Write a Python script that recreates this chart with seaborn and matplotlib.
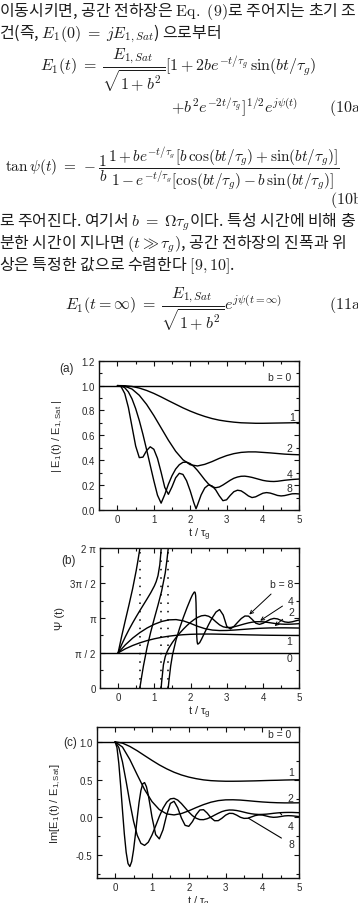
import numpy as np
import pandas as pd
import matplotlib
matplotlib.use("Agg")
import matplotlib.pyplot as plt
from matplotlib.ticker import MultipleLocator, FixedLocator
import seaborn as sns

W, H = 358, 904

# time axis, in units of tau_g
t_c = [0.0, 0.2, 0.4, 0.6, 0.8, 1.0, 1.2, 1.4, 1.6, 1.8, 2.0, 2.2, 2.4, 2.6, 2.8,
       3.0, 3.2, 3.4, 3.6, 3.8, 4.0, 4.2, 4.4, 4.6, 4.8, 5.0]
t_f = [0.0, 0.1, 0.2, 0.3, 0.4, 0.5, 0.6, 0.7, 0.8, 0.9, 1.0, 1.1, 1.2, 1.3, 1.4,
       1.5, 1.6, 1.7, 1.8, 1.9, 2.0, 2.1, 2.2, 2.3, 2.4, 2.5, 2.6, 2.7, 2.8, 2.9,
       3.0, 3.1, 3.2, 3.3, 3.4, 3.5, 3.6, 3.7, 3.8, 3.9, 4.0, 4.1, 4.2, 4.3, 4.4,
       4.5, 4.6, 4.7, 4.8, 4.9, 5.0]
t_flat = [-0.5, 5.0]

# (a) |E1(t) / E1,Sat|
amp_b0 = [1.0, 1.0]
amp_b1 = [1.000, 0.999, 0.993, 0.980, 0.961, 0.937, 0.909, 0.879, 0.850, 0.821, 0.795,
          0.772, 0.752, 0.735, 0.722, 0.713, 0.706, 0.701, 0.699, 0.697, 0.697, 0.698,
          0.699, 0.700, 0.701, 0.703]
amp_b2 = [1.000, 0.995, 0.972, 0.922, 0.849, 0.759, 0.660, 0.561, 0.472, 0.404, 0.364,
          0.354, 0.367, 0.389, 0.415, 0.437, 0.453, 0.463, 0.467, 0.467, 0.463, 0.459,
          0.454, 0.449, 0.446, 0.444]
amp_b4 = [1.000, 0.997, 0.983, 0.949, 0.893, 0.815, 0.719, 0.608, 0.486, 0.360, 0.235,
          0.119, 0.055, 0.124, 0.207, 0.276, 0.329, 0.364, 0.383, 0.385, 0.373, 0.350,
          0.318, 0.281, 0.243, 0.210, 0.187, 0.179, 0.185, 0.201, 0.220, 0.239, 0.255,
          0.265, 0.271, 0.272, 0.268, 0.262, 0.254, 0.246, 0.238, 0.233, 0.230, 0.229,
          0.231, 0.235, 0.239, 0.242, 0.245, 0.247, 0.249]
t_amp8 = [0.0, 0.1, 0.2, 0.3, 0.4, 0.5, 0.6, 0.7, 0.8, 0.9, 1.0, 1.1, 1.2, 1.3, 1.4,
          1.5, 1.6, 1.7, 1.8, 1.9, 2.0, 2.1, 2.16, 2.2, 2.3, 2.4, 2.5, 2.6, 2.7, 2.8,
          2.9, 3.0, 3.1, 3.2, 3.3, 3.4, 3.5, 3.6, 3.7, 3.8, 3.9, 4.0, 4.1, 4.2, 4.3,
          4.4, 4.5, 4.6, 4.7, 4.8, 4.9, 5.0]
amp_b8 = [1.000, 0.991, 0.936, 0.824, 0.669, 0.514, 0.421, 0.425, 0.477, 0.508, 0.488,
          0.415, 0.303, 0.182, 0.126, 0.187, 0.259, 0.295, 0.286, 0.235, 0.154, 0.058,
          0.010, 0.040, 0.121, 0.177, 0.201, 0.194, 0.162, 0.114, 0.075, 0.082, 0.117,
          0.147, 0.159, 0.154, 0.135, 0.113, 0.100, 0.106, 0.121, 0.135, 0.140, 0.136,
          0.127, 0.117, 0.113, 0.116, 0.123, 0.130, 0.131, 0.129]

# (b) phase psi(t), shown modulo 2 pi
psi_b0 = [1.571, 1.571]
psi_b1 = [1.571, 1.753, 1.901, 2.023, 2.124, 2.205, 2.271, 2.322, 2.361, 2.389, 2.406,
          2.416, 2.419, 2.418, 2.412, 2.405, 2.397, 2.389, 2.381, 2.375, 2.368, 2.363,
          2.360, 2.357, 2.355, 2.354]
psi_b2 = [1.571, 1.933, 2.234, 2.484, 2.692, 2.859, 2.984, 3.057, 3.070, 3.013, 2.897,
          2.764, 2.659, 2.598, 2.576, 2.580, 2.598, 2.622, 2.646, 2.668, 2.683, 2.694,
          2.698, 2.698, 2.694, 2.689]
t_psi4_a = [0.0, 0.1, 0.2, 0.3, 0.4, 0.5, 0.6, 0.7, 0.8, 0.9, 1.0, 1.05, 1.1, 1.15,
            1.18, 1.188]
psi_b4_a = [1.571, 1.951, 2.298, 2.619, 2.918, 3.202, 3.475, 3.740, 4.005, 4.278, 4.585,
            4.778, 5.047, 5.536, 6.079, 6.283]
t_psi4_b = [1.188, 1.2, 1.25, 1.3, 1.35, 1.4, 1.5, 1.6, 1.7, 1.8, 1.9, 2.0, 2.1, 2.2,
            2.3, 2.4, 2.5, 2.6, 2.7, 2.8, 2.9, 3.0, 3.1, 3.2, 3.3, 3.4, 3.5, 3.6, 3.7,
            3.8, 3.9, 4.0, 4.1, 4.2, 4.3, 4.4, 4.5, 4.6, 4.7, 4.8, 4.9, 5.0]
psi_b4_b = [0.000, 0.238, 1.030, 1.398, 1.619, 1.785, 2.045, 2.264, 2.460, 2.639, 2.802,
            2.948, 3.074, 3.174, 3.241, 3.261, 3.219, 3.115, 2.967, 2.832, 2.745, 2.711,
            2.715, 2.745, 2.788, 2.835, 2.881, 2.922, 2.953, 2.972, 2.977, 2.968, 2.950,
            2.926, 2.901, 2.881, 2.867, 2.860, 2.861, 2.866, 2.875, 2.886]
t_psi8_a = [0.0, 0.1, 0.2, 0.3, 0.4, 0.5, 0.55, 0.6, 0.601]
psi_b8_a = [1.571, 2.334, 3.043, 3.735, 4.460, 5.288, 5.763, 6.272, 6.283]
t_psi8_b = [0.601, 0.65, 0.7, 0.8, 0.9, 1.0, 1.1, 1.2, 1.3, 1.35, 1.37, 1.383]
psi_b8_b = [0.000, 0.504, 0.991, 1.824, 2.512, 3.126, 3.719, 4.348, 5.170, 5.787, 6.089,
            6.283]
t_psi8_c = [1.383, 1.4, 1.45, 1.5, 1.6, 1.7, 1.8, 1.9, 2.0, 2.05, 2.1, 2.11, 2.12, 2.13,
            2.14, 2.15, 2.16, 2.17, 2.18, 2.19, 2.2, 2.25, 2.3, 2.4, 2.5, 2.6, 2.7, 2.8,
            2.9, 3.0, 3.1, 3.2, 3.3, 3.4, 3.5, 3.6, 3.7, 3.8, 3.9, 4.0, 4.1, 4.2, 4.3,
            4.4, 4.5, 4.6, 4.7, 4.8, 4.9, 5.0]
psi_b8_c = [0.000, 0.281, 0.975, 1.474, 2.165, 2.697, 3.167, 3.601, 4.002, 4.180, 4.307,
            4.313, 4.303, 4.261, 4.144, 3.820, 3.031, 2.325, 2.084, 1.994, 1.963, 2.029,
            2.180, 2.518, 2.851, 3.158, 3.409, 3.522, 3.277, 2.759, 2.649, 2.769, 2.949,
            3.120, 3.232, 3.226, 3.077, 2.907, 2.855, 2.904, 2.995, 3.080, 3.123, 3.100,
            3.029, 2.964, 2.944, 2.969, 3.013, 3.052]
wrap_t = [0.601, 1.188, 1.383]

# (c) Im[E1(t) / E1,Sat]
im_b0 = [1.0, 1.0]
im_b1 = [1.000, 0.983, 0.939, 0.882, 0.818, 0.755, 0.695, 0.643, 0.598, 0.562, 0.534,
         0.513, 0.497, 0.487, 0.482, 0.479, 0.479, 0.480, 0.482, 0.484, 0.487, 0.490,
         0.492, 0.495, 0.497, 0.498]
im_b2 = [1.000, 0.931, 0.766, 0.564, 0.369, 0.211, 0.104, 0.047, 0.034, 0.052, 0.088,
         0.131, 0.170, 0.202, 0.223, 0.233, 0.234, 0.230, 0.222, 0.213, 0.205, 0.199,
         0.195, 0.193, 0.193, 0.194]
im_b4 = [1.000, 0.926, 0.734, 0.474, 0.198, -0.049, -0.235, -0.342, -0.369, -0.327,
         -0.233, -0.112, 0.013, 0.122, 0.202, 0.246, 0.253, 0.230, 0.184, 0.128, 0.072,
         0.024, -0.010, -0.028, -0.029, -0.016, 0.005, 0.031, 0.056, 0.078, 0.092, 0.099,
         0.098, 0.092, 0.082, 0.070, 0.058, 0.049, 0.043, 0.040, 0.041, 0.044, 0.049,
         0.055, 0.060, 0.064, 0.066, 0.067, 0.067, 0.065, 0.063]
t_im8 = [0.0, 0.05, 0.1, 0.15, 0.2, 0.25, 0.3, 0.35, 0.4, 0.45, 0.5, 0.55, 0.6, 0.65,
         0.7, 0.75, 0.8, 0.85, 0.9, 0.95, 1.0, 1.1, 1.2, 1.3, 1.4, 1.5, 1.6, 1.7, 1.8,
         1.9, 2.0, 2.1, 2.2, 2.3, 2.4, 2.5, 2.6, 2.7, 2.8, 2.9, 3.0, 3.1, 3.2, 3.3, 3.4,
         3.5, 3.6, 3.7, 3.8, 3.9, 4.0, 4.1, 4.2, 4.3, 4.4, 4.5, 4.6, 4.7, 4.8, 4.9, 5.0]
im_b8 = [1.000, 0.924, 0.716, 0.421, 0.093, -0.217, -0.461, -0.609, -0.648, -0.582,
         -0.431, -0.227, -0.005, 0.199, 0.356, 0.446, 0.461, 0.407, 0.299, 0.157, 0.008,
         -0.226, -0.283, -0.163, 0.035, 0.186, 0.214, 0.127, -0.007, -0.104, -0.117,
         -0.054, 0.037, 0.099, 0.103, 0.058, -0.003, -0.043, -0.042, -0.010, 0.031,
         0.055, 0.053, 0.031, 0.003, -0.012, -0.010, 0.007, 0.025, 0.034, 0.032, 0.020,
         0.008, 0.002, 0.005, 0.013, 0.021, 0.024, 0.022, 0.017, 0.012]


sns.set_theme(style="ticks")
plt.rcParams['font.family'] = ['Liberation Sans', 'DejaVu Sans']
plt.rcParams['mathtext.fontset'] = 'cm'
plt.rcParams['axes.unicode_minus'] = False

fig = plt.figure(figsize=(W / 100, H / 100), dpi=100)
fig.patch.set_facecolor('white')

INK = '#1c1c1c'
PLOT_INK = '#2a2a2a'


def box(left, top, right, bottom):
    return [left / W, 1 - bottom / H, (right - left) / W, (bottom - top) / H]


def frame(parts):
    dfs = [pd.DataFrame({'t': ts, 'v': vs, 'seg': k}) for k, (ts, vs) in enumerate(parts)]
    return pd.concat(dfs, ignore_index=True)


def draw(ax, parts):
    sns.lineplot(data=frame(parts), x='t', y='v', units='seg', estimator=None,
                 sort=False, color='black', lw=1.0, ax=ax, legend=False)


def style(ax, ylim, ymaj=None, ymin=None):
    ax.set_xlim(-0.5, 5)
    ax.set_ylim(*ylim)
    ax.xaxis.set_major_locator(MultipleLocator(1))
    ax.xaxis.set_minor_locator(MultipleLocator(0.5))
    if ymaj is not None:
        ax.yaxis.set_major_locator(MultipleLocator(ymaj))
        ax.yaxis.set_minor_locator(MultipleLocator(ymin))
    ax.tick_params(which='both', direction='in', top=True, right=True,
                   color='#111', labelcolor=PLOT_INK, labelsize=7, width=0.8)
    ax.tick_params(which='major', length=3.5, pad=3)
    ax.tick_params(which='minor', length=2)
    for s in ax.spines.values():
        s.set_linewidth(1.0)
        s.set_color('#111')
    ax.set_xlabel(r't / $\mathregular{\tau_g}$', fontsize=8, color=PLOT_INK, labelpad=1)


# ---------- (a) amplitude ----------
ax_a = fig.add_axes(box(99.3, 361.7, 299.3, 511))
draw(ax_a, [(t_flat, amp_b0), (t_c, amp_b1), (t_c, amp_b2), (t_f, amp_b4), (t_amp8, amp_b8)])
style(ax_a, (0, 1.2), 0.2, 0.1)
ax_a.set_ylabel(r'| E$_{\mathregular{1}}$(t) / E$_{\mathregular{1,Sat}}$ |', fontsize=8, color=PLOT_INK)
ax_a.yaxis.set_label_coords(-0.17, 0.5)
for tx, ty, s in [(4.47, 1.07, 'b = 0'), (4.79, 0.75, '1'), (4.74, 0.50, '2'),
                  (4.74, 0.29, '4'), (4.74, 0.18, '8')]:
    ax_a.text(tx, ty, s, fontsize=7.5, ha='center', va='center', color=PLOT_INK)

# ---------- (b) phase ----------
ax_b = fig.add_axes(box(100, 549.3, 299.3, 688.7))
draw(ax_b, [(t_flat, psi_b0), (t_c, psi_b1), (t_c, psi_b2), (t_psi4_a, psi_b4_a),
            (t_psi4_b, psi_b4_b), (t_psi8_a, psi_b8_a), (t_psi8_b, psi_b8_b),
            (t_psi8_c, psi_b8_c)])
ax_b.vlines(wrap_t, 0, 2 * np.pi, colors='black', linestyles=(0, (1, 4.5)), lw=1.1)
style(ax_b, (0, 2 * np.pi))
ax_b.yaxis.set_major_locator(FixedLocator([0, np.pi / 2, np.pi, 3 * np.pi / 2, 2 * np.pi]))
ax_b.yaxis.set_minor_locator(FixedLocator([np.pi / 4, 3 * np.pi / 4, 5 * np.pi / 4, 7 * np.pi / 4]))
ax_b.set_yticklabels(['0', 'π / 2', 'π', '3π / 2', '2 π'])
ax_b.set_ylabel('Ψ (t)', fontsize=8, color=PLOT_INK)
ax_b.yaxis.set_label_coords(-0.175, 0.5)
arrow = dict(arrowstyle='->', lw=0.7, color='black', shrinkA=2, shrinkB=0, mutation_scale=6)
ax_b.annotate('b = 8', xy=(3.62, 3.30), xytext=(4.52, 4.68), fontsize=7.5, color=PLOT_INK,
              ha='center', va='center', arrowprops=arrow)
ax_b.annotate('4', xy=(3.92, 3.02), xytext=(4.77, 3.93), fontsize=7.5, color=PLOT_INK,
              ha='center', va='center', arrowprops=arrow)
ax_b.annotate('2', xy=(4.32, 2.78), xytext=(4.77, 3.40), fontsize=7.5, color=PLOT_INK,
              ha='center', va='center', arrowprops=arrow)
ax_b.text(4.72, 2.12, '1', fontsize=7.5, ha='center', va='center', color=PLOT_INK)
ax_b.text(4.72, 1.33, '0', fontsize=7.5, ha='center', va='center', color=PLOT_INK)

# ---------- (c) imaginary part ----------
ax_c = fig.add_axes(box(96.7, 727.7, 299.3, 879))
draw(ax_c, [(t_flat, im_b0), (t_c, im_b1), (t_c, im_b2), (t_f, im_b4), (t_im8, im_b8)])
style(ax_c, (-0.8, 1.2), 0.5, 0.25)
ax_c.set_ylabel(r'Im[E$_{\mathregular{1}}$(t) / E$_{\mathregular{1,Sat}}$]', fontsize=8, color=PLOT_INK)
ax_c.yaxis.set_label_coords(-0.168, 0.5)
for tx, ty, s in [(4.47, 1.11, 'b = 0'), (4.79, 0.60, '1'), (4.77, 0.26, '2')]:
    ax_c.text(tx, ty, s, fontsize=7.5, ha='center', va='center', color=PLOT_INK)
line = dict(arrowstyle='-', lw=0.8, color='black', shrinkA=3, shrinkB=0)
ax_c.annotate('4', xy=(4.48, 0.06), xytext=(4.76, -0.11), fontsize=7.5, color=PLOT_INK,
              ha='center', va='center', arrowprops=line)
ax_c.annotate('8', xy=(3.62, -0.01), xytext=(4.78, -0.35), fontsize=7.5, color=PLOT_INK,
              ha='center', va='center', arrowprops=line)

# panel tags
for px, py, s in [(66.7, 369.3, '(a)'), (68.3, 560.7, '(b)'), (70, 742.7, '(c)')]:
    fig.text(px / W, 1 - py / H, s, fontsize=8.5, ha='center', va='center', color=PLOT_INK)

# ---------- page text above the figure ----------
page_font = ['Noto Sans CJK KR', 'DejaVu Sans']


def put(x, y, s, size=11.5):
    fig.text(x / W, 1 - y / H, s, fontsize=size, family=page_font, color=INK,
             ha='left', va='center', math_fontfamily='cm')


put(-1, 12, r"이동시키면, 공간 전하장은 $\mathrm{Eq.\ (9)}$로 주어지는 초기 조")
put(-1, 34, r"건(즉, $E_1(0)\;=\;jE_{1,Sat}$) 으로부터")
put(40, 70, r"$E_1(t)\;=\;\dfrac{E_{1,Sat}}{\sqrt{1+b^2}}[1 + 2be^{-t/\tau_g}\,\sin(bt/\tau_g)$")
put(171, 108, r"$+b^2e^{-2t/\tau_g}]^{1/2}e^{j\psi(t)}$")
put(329, 108, r"$\mathrm{(10a)}$")
put(5, 169, r"$\tan\psi(t)\;=\;-\dfrac{1}{b}\dfrac{1+be^{-t/\tau_g}[b\,\cos(bt/\tau_g)+\sin(bt/\tau_g)]}"
            r"{1-e^{-t/\tau_g}[\cos(bt/\tau_g)-b\,\sin(bt/\tau_g)]}$", size=11)
put(330, 200, r"$\mathrm{(10b)}$")
put(-1, 222, r"로 주어진다. 여기서 $b\;=\;\Omega\tau_g$이다. 특성 시간에 비해 충")
put(-1, 244, r"분한 시간이 지나면 $(t \gg \tau_g)$, 공간 전하장의 진폭과 위")
put(-1, 266, r"상은 특정한 값으로 수렴한다 $\mathrm{[9,10]}$.")
put(65, 309, r"$E_1(t=\infty)\;=\;\dfrac{E_{1,Sat}}{\sqrt{1+b^2}}e^{j\psi(t=\infty)}$")
put(329, 305, r"$\mathrm{(11a)}$")

fig.savefig('out.png', dpi=100, facecolor='white')
